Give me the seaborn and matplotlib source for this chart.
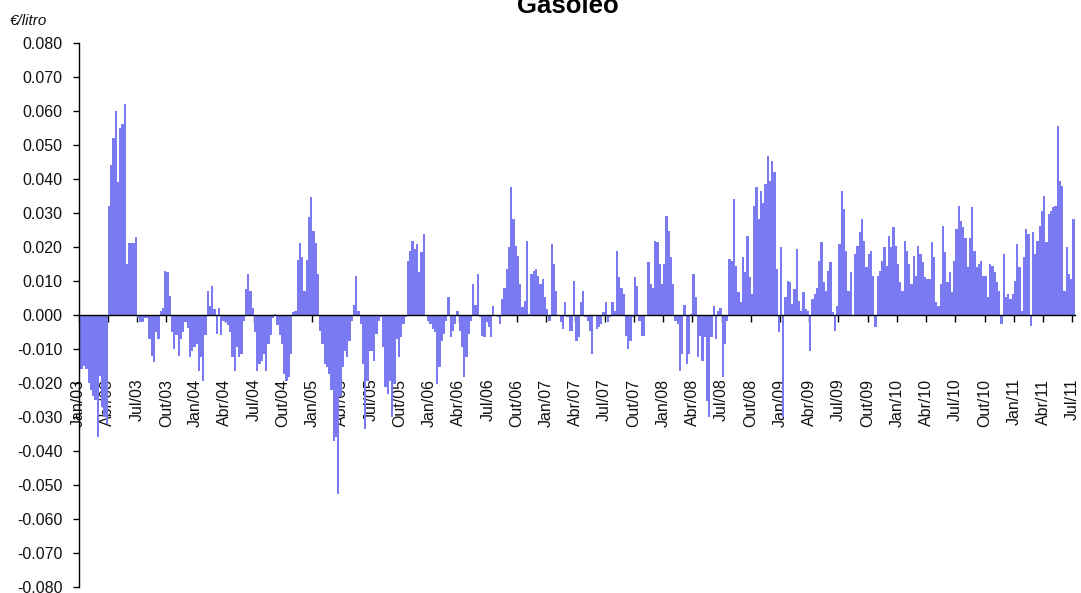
import numpy as np
import pandas as pd
import matplotlib
matplotlib.use("Agg")
import matplotlib.pyplot as plt
from matplotlib.ticker import FuncFormatter
import seaborn as sns

# Weekly price variation, in thousandths of €/litro (one list per year, 13 weeks per quarter)
v2003 = [-16, -16, -15, -16, -20, -22, -24, -25, -36, -18, -27, -30, -32,
         32, 44, 52, 60, 39, 55, 56, 62, 15, 21, 21, 21, 23,
         -1, -2, -2, -1, -1, -7, -12, -14, -5, -7, 1, 2, 13,
         12.5, 5.6, -5, -10, -6, -12, -7, -5, -2, -4, -12.5, -10.6, -9.6]
v2004 = [-8.6, -16.5, -12.5, -19.4, -6, 7, 2.6, 8.5, 1.7, -5.7, 2, -6, -1.8,
         -2, -3, -5, -12.5, -16.5, -9.6, -12.5, -11.6, -1.8, 7.5, 12, 7, 2,
         -5, -16.5, -14.5, -13.5, -11.6, -16.5, -8.6, -6, -1, 0.2, -3, -6, -8.6,
         -17.5, -19.4, -18.4, -11.6, 0.7, 1.2, 16, 21, 17, 7, 16, 28.6, 34.5]
v2005 = [24.7, 21, 12, -4.7, -8.6, -14.5, -15.5, -17.5, -22, -37, -36, -52.7, -24,
         -15.5, -10.6, -12.5, -7.6, -1.8, 3, 11.5, 1.2, -2.7, -14.5, -33.6, -19.4, -10.6,
         -10.6, -13.5, -5.7, -1.8, -0.8, -9.6, -21.4, -23.3, -19.4, -30.2, -20.4, -7.2, -12.5,
         -6.7, -2.7, -0.8, 15.9, 18.8, 21.8, 19.3, 20.8, 12.5, 18.3, 23.7, 0, -1.8]
v2006 = [-2.7, -4.2, -5.2, -20.4, -15.5, -7.6, -5.7, -1.8, 5.1, -6.7, -4.7, -2.7, 1.2,
         -4.7, -9.6, -18.4, -12.5, -5.7, -1.8, 9, 3, 12, -0.8, -6.2, -6.7, -2.2,
         -3.7, -6.7, 2.6, 0, -0.8, -2.7, 4.6, 8, 13.4, 19.8, 37.5, 28.1, 20.3,
         17.4, 9, 2.2, 4.1, 21.8, 0.2, 12, 13, 13.4, 11.5, 9, 10.5, 5.1]
v2007 = [1.7, -1.8, 20.8, 14.9, 7, 0, -2.2, -4.2, 3.6, -0.8, -4.7, -4.9, 10,
         -7.6, -6.7, 3.6, 7, -0.8, -1.8, -4.7, -11.6, 0, -4.2, -3.7, -2.7, 0.7,
         3.6, -2.2, -0.8, 3.6, 1.2, 18.8, 11, 8, 6.1, -6.2, -10.1, -7.6, -0.8,
         11, 8.5, -1.8, -6.2, -6.2, 0, 15.4, 9, 8, 21.8, 21.3, 14.9, 9]
v2008 = [14.9, 29, 24.7, 17, 9, -1.8, -2.7, -16.5, -11.6, 3, -14.5, -11.6, 0.2,
         12, 5.1, -12.5, -6.2, -13.5, -6.7, -25.3, -30.2, -6.7, 2.6, -7.2, 1.2, 2,
         -18.4, -8.6, -1.8, 16.4, 15.9, 34, 14.4, 6.6, 3.6, 17, 12.5, 23.2, 11,
         6.1, 32, 37.5, 28.1, 36.5, 33, 38.4, 46.8, 39.4, 45.3, 41.9, 13.4, -5.2]
v2009 = [19.8, -30, 5.1, 10, 9.5, 3.1, 7.5, 19.3, 4.1, 1.2, 6.6, 1.7, 1.2,
         -10.6, 4.6, 6.1, 8, 15.9, 21.3, 9.5, 7, 13, 15.4, 0.7, -4.7, 2.6,
         20.8, 36.5, 31, 18.8, 7, 12.5, 0, 17.8, 20.3, 24.2, 28.1, 21.8, 14,
         17.8, 18.8, 11.5, -3.7, 11.5, 13, 15.9, 19.8, 14.4, 23.2, 19.8, 25.7, 20.3]
v2010 = [14.9, 9.5, 7, 21.8, 18.8, 14.9, 9, 17.4, 11.5, 20.3, 17.8, 15.4, 11,
         10.5, 10.5, 21.3, 16.9, 3.6, 2.6, 9, 26.2, 18.3, 9.5, 12.5, 6.6, 15.9,
         25.2, 32, 27.6, 25.7, 22.7, 13.9, 22.7, 31.6, 18.8, 13.9, 14.9, 15.9, 11.5,
         11.5, 5.1, 14.9, 14.4, 12.5, 9.5, 7, -2.7, 17.8, 5.1, 6.1, 4.6, 6.1]
v2011 = [10, 20.8, 13.9, 1.2, 16.9, 25.2, 23.7, -3.2, 24.2, 17.8, 21.8, 26.2, 30.6,
         35, 21.3, 29.6, 30.6, 31.6, 32, 55.6, 39.4, 38, 7, 19.8, 12, 10.5,
         28.1]

quarter_labels = []
for yy in range(3, 11):
    for m in ["Jan", "Abr", "Jul", "Out"]:
        quarter_labels.append(f"{m}/{yy:02d}")
quarter_labels += ["Jan/11", "Abr/11", "Jul/11"]

values = np.array(v2003 + v2004 + v2005 + v2006 + v2007 + v2008 + v2009 + v2010 + v2011) / 1000.0
df = pd.DataFrame({"week": np.arange(len(values)), "value": values})

sns.set_style("white")
plt.rcParams["font.family"] = ["Liberation Sans", "DejaVu Sans"]

W, H = 1081, 593
fig = plt.figure(figsize=(W / 100, H / 100), dpi=100)
ax = fig.add_axes([78.6 / W, 1 - 586.7 / H, (1074.5 - 78.6) / W, (586.7 - 42.7) / H])

sns.barplot(data=df, x="week", y="value", color="#7A7AF2", saturation=1,
            width=1.0, linewidth=0, ax=ax)

n = len(values)
ax.set_xlim(-0.5, n - 0.5)
ax.set_ylim(-0.08, 0.08)
ax.set_xlabel("")
ax.set_ylabel("")

ax.set_xticks(np.arange(0, 13 * len(quarter_labels), 13) - 0.5)
ax.set_xticklabels(quarter_labels)
ax.set_yticks(np.round(np.arange(-0.08, 0.0801, 0.01), 3))
ax.yaxis.set_major_formatter(FuncFormatter(lambda v, p: f"{round(v, 3) + 0.0:.3f}"))

for s in ["top", "right"]:
    ax.spines[s].set_visible(False)
ax.spines["bottom"].set_position(("data", 0))
for s in ["bottom", "left"]:
    ax.spines[s].set_color("black")
    ax.spines[s].set_linewidth(1.0)

ax.tick_params(axis="x", direction="out", length=5, width=1, color="black",
               pad=41, labelrotation=90, labelsize=11.5, labelcolor="#111111", bottom=True)
ax.tick_params(axis="y", direction="out", length=4, width=1, color="black",
               pad=7.5, labelsize=11.5, labelcolor="#111111", left=True)
ax.grid(False)

fig.text(10 / W, 1 - 14 / H, "€/litro", style="italic", fontsize=11, va="top", ha="left",
         color="#111111")
fig.text(568 / W, 1 - 13.3 / H, "Gasóleo", fontsize=18.5, weight="bold",
         ha="center", va="baseline", color="black")

fig.savefig("out.png", dpi=100)
